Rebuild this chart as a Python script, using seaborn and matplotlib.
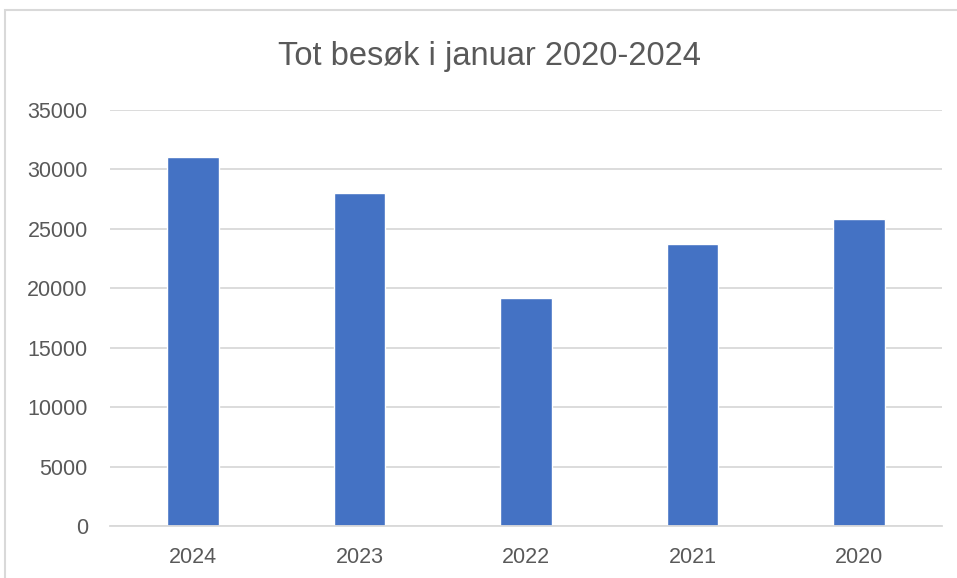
import matplotlib
matplotlib.use("Agg")
import matplotlib.pyplot as plt
import seaborn as sns
import pandas as pd
from matplotlib.patches import Rectangle

years = ['2024', '2023', '2022', '2021', '2020']
visits = [31050, 28000, 19200, 23700, 25800]
yticks = [0, 5000, 10000, 15000, 20000, 25000, 30000, 35000]

df = pd.DataFrame({'year': years, 'visits': visits})

sns.set_style('white')
plt.rcParams['font.family'] = ['Liberation Sans', 'DejaVu Sans']

fig = plt.figure(figsize=(9.57, 5.78), dpi=100)
ax = fig.add_axes([110 / 957, 1 - 526 / 578, 832 / 957, 416 / 578])

sns.barplot(data=df, x='year', y='visits', order=years, color='#4472C4',
            width=0.31, saturation=1, ax=ax)

ax.set_ylim(0, 35000)
ax.set_yticks(yticks)
ax.set_yticklabels([str(t) for t in yticks])
ax.yaxis.grid(True, color='#D9D9D9', linewidth=1.3)
ax.set_axisbelow(True)
for s in ['top', 'right', 'left']:
    ax.spines[s].set_visible(False)
ax.spines['bottom'].set_color('#D9D9D9')
ax.spines['bottom'].set_linewidth(1.3)
ax.tick_params(axis='both', length=0, labelsize=15.5, colors='#595959')
ax.tick_params(axis='y', pad=16)
ax.tick_params(axis='x', pad=15)
ax.set_xlabel('')
ax.set_ylabel('')

fig.text(490 / 957, 1 - 57 / 578, 'Tot besøk i januar 2020-2024', ha='center', va='center',
         fontsize=23.5, color='#595959')

# chart border
fig.patches.append(Rectangle((5 / 957, -0.01), 1.0, 1 - 10 / 578 + 0.01, transform=fig.transFigure,
                             fill=False, edgecolor='#D9D9D9', linewidth=1.5))

fig.savefig('out.png', dpi=100)
